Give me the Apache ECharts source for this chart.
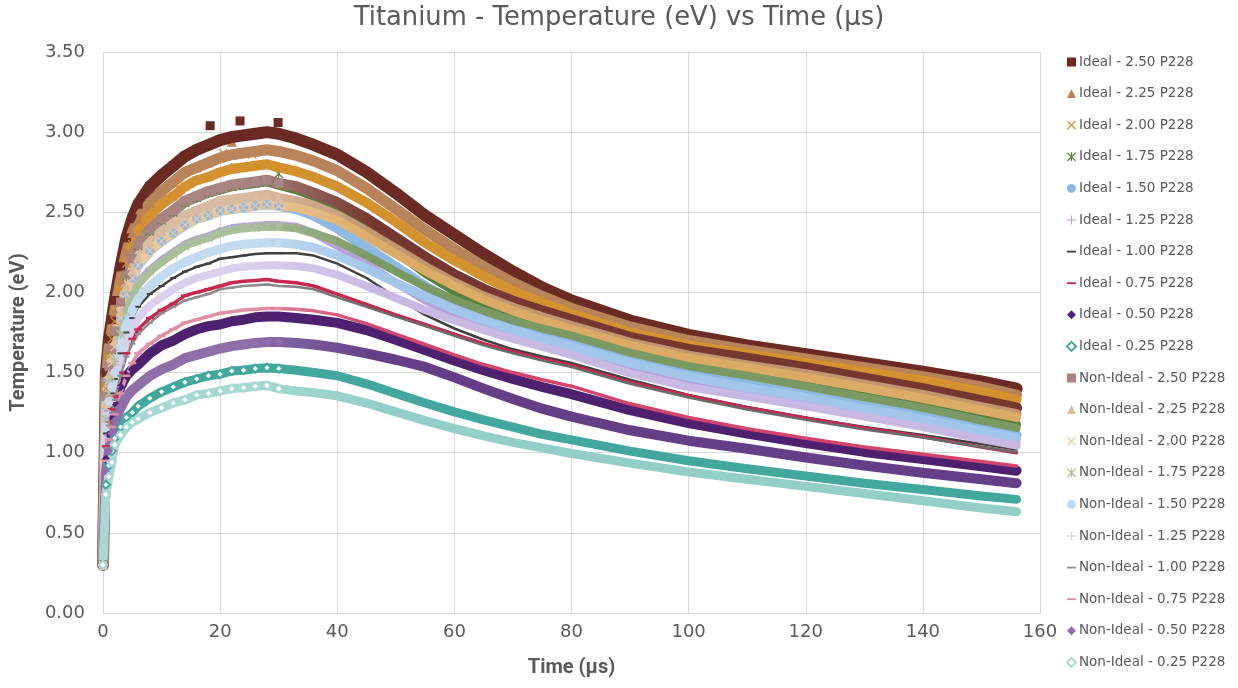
<!DOCTYPE html>
<html><head><meta charset="utf-8">
<script src="https://cdn.jsdelivr.net/npm/echarts@6/dist/echarts.min.js"></script>
<style>html,body{margin:0;padding:0;background:#fff}#c{width:1238px;height:688px}</style>
</head><body><div id="c"></div>
<script>
// ---- data ----
const TIME = [0,0.5,1,1.5,2,3,4,5,6,8,10,12,14,16,18,20,22,24,26,28,30,33,36,40,45,50,55,60,65,70,75,80,90,100,110,120,130,140,150,156];
const I250 = [0.30,1.50,1.71,1.83,1.95,2.16,2.34,2.46,2.55,2.66,2.73,2.79,2.85,2.89,2.92,2.95,2.97,2.98,2.99,3.00,2.99,2.96,2.92,2.86,2.75,2.62,2.48,2.36,2.24,2.13,2.03,1.95,1.825,1.735,1.67,1.615,1.56,1.505,1.445,1.40];
const I225 = [0.30,1.45,1.65,1.76,1.88,2.08,2.25,2.37,2.46,2.56,2.63,2.69,2.75,2.78,2.81,2.84,2.86,2.87,2.88,2.89,2.88,2.855,2.82,2.76,2.65,2.52,2.39,2.27,2.16,2.06,1.975,1.90,1.785,1.70,1.64,1.585,1.53,1.475,1.41,1.36];
const I200 = [0.30,1.40,1.60,1.71,1.82,2.02,2.18,2.30,2.38,2.48,2.55,2.60,2.66,2.70,2.72,2.75,2.77,2.78,2.79,2.80,2.78,2.755,2.72,2.66,2.56,2.44,2.31,2.20,2.10,2.01,1.935,1.865,1.75,1.67,1.615,1.56,1.505,1.45,1.38,1.33];
const I175 = [0.30,1.35,1.53,1.64,1.75,1.94,2.10,2.21,2.29,2.38,2.45,2.50,2.56,2.59,2.62,2.64,2.66,2.67,2.68,2.69,2.67,2.64,2.60,2.52,2.40,2.26,2.12,2.01,1.925,1.855,1.80,1.75,1.645,1.56,1.495,1.435,1.365,1.30,1.22,1.175];
const I150 = [0.30,1.28,1.45,1.56,1.66,1.84,1.99,2.09,2.17,2.26,2.32,2.37,2.42,2.46,2.48,2.51,2.52,2.53,2.54,2.55,2.54,2.52,2.48,2.40,2.28,2.16,2.04,1.94,1.86,1.79,1.735,1.685,1.585,1.495,1.425,1.36,1.29,1.23,1.155,1.11];
const I125 = [0.30,1.21,1.38,1.48,1.57,1.74,1.89,1.98,2.06,2.14,2.20,2.25,2.30,2.33,2.35,2.38,2.40,2.41,2.415,2.42,2.42,2.41,2.37,2.29,2.18,2.06,1.95,1.86,1.785,1.725,1.675,1.63,1.515,1.43,1.37,1.31,1.245,1.18,1.10,1.06];
const I100 = [0.30,1.12,1.28,1.37,1.46,1.62,1.75,1.84,1.91,1.99,2.04,2.09,2.13,2.16,2.18,2.21,2.22,2.23,2.24,2.245,2.245,2.245,2.23,2.18,2.09,1.97,1.86,1.775,1.705,1.645,1.60,1.56,1.455,1.36,1.285,1.22,1.16,1.11,1.055,1.02];
const I075 = [0.30,1.04,1.19,1.27,1.35,1.50,1.62,1.71,1.77,1.84,1.89,1.93,1.98,2.00,2.02,2.04,2.06,2.07,2.075,2.08,2.07,2.06,2.04,1.99,1.925,1.86,1.80,1.74,1.68,1.63,1.585,1.545,1.44,1.355,1.28,1.215,1.155,1.10,1.035,1.00];
const I050 = [0.30,0.96,1.11,1.22,1.31,1.41,1.48,1.52,1.55,1.62,1.67,1.70,1.74,1.77,1.79,1.80,1.82,1.83,1.845,1.85,1.85,1.84,1.83,1.81,1.765,1.705,1.64,1.575,1.515,1.46,1.41,1.365,1.265,1.185,1.12,1.06,1.005,0.96,0.915,0.888];
const I025 = [0.30,0.80,0.92,1.01,1.09,1.16,1.22,1.25,1.29,1.34,1.38,1.41,1.44,1.46,1.48,1.49,1.51,1.515,1.525,1.53,1.525,1.515,1.50,1.48,1.43,1.37,1.31,1.255,1.205,1.16,1.115,1.08,1.01,0.95,0.90,0.855,0.81,0.77,0.73,0.709];
const N250 = [0.30,1.35,1.54,1.65,1.76,1.94,2.11,2.21,2.30,2.39,2.46,2.51,2.57,2.60,2.63,2.65,2.67,2.68,2.69,2.70,2.68,2.66,2.62,2.56,2.46,2.34,2.22,2.11,2.02,1.945,1.885,1.83,1.72,1.645,1.59,1.53,1.465,1.40,1.325,1.28];
const N225 = [0.30,1.31,1.49,1.59,1.70,1.88,2.04,2.14,2.22,2.31,2.38,2.43,2.48,2.51,2.54,2.57,2.58,2.59,2.60,2.61,2.59,2.57,2.54,2.48,2.38,2.27,2.16,2.06,1.975,1.905,1.845,1.79,1.685,1.605,1.545,1.49,1.425,1.36,1.285,1.24];
const N200 = [0.30,1.28,1.45,1.56,1.66,1.84,1.99,2.09,2.17,2.26,2.32,2.37,2.42,2.46,2.48,2.51,2.52,2.53,2.54,2.55,2.54,2.53,2.50,2.45,2.35,2.24,2.135,2.04,1.955,1.885,1.825,1.77,1.67,1.59,1.53,1.47,1.405,1.34,1.265,1.22];
const N175 = [0.30,1.21,1.37,1.47,1.57,1.74,1.88,1.98,2.05,2.13,2.19,2.24,2.29,2.32,2.34,2.37,2.39,2.40,2.405,2.41,2.41,2.40,2.37,2.32,2.23,2.13,2.035,1.955,1.885,1.825,1.775,1.73,1.625,1.54,1.48,1.415,1.345,1.28,1.20,1.155];
const N150 = [0.30,1.16,1.32,1.41,1.50,1.66,1.80,1.89,1.96,2.04,2.10,2.15,2.19,2.22,2.25,2.27,2.29,2.30,2.305,2.31,2.31,2.30,2.28,2.23,2.15,2.06,1.975,1.895,1.825,1.765,1.71,1.66,1.56,1.475,1.405,1.345,1.275,1.21,1.135,1.09];
const N125 = [0.30,1.09,1.24,1.32,1.41,1.56,1.69,1.78,1.84,1.92,1.97,2.02,2.06,2.09,2.11,2.13,2.15,2.16,2.165,2.17,2.17,2.165,2.15,2.11,2.04,1.965,1.89,1.825,1.765,1.71,1.66,1.61,1.495,1.41,1.35,1.29,1.225,1.16,1.085,1.045];
const N100 = [0.30,1.03,1.17,1.25,1.33,1.48,1.60,1.68,1.74,1.81,1.87,1.91,1.95,1.97,1.99,2.02,2.03,2.04,2.045,2.05,2.04,2.035,2.02,1.97,1.91,1.85,1.79,1.73,1.67,1.62,1.575,1.535,1.43,1.345,1.27,1.205,1.145,1.095,1.035,1.005];
const N075 = [0.30,0.95,1.08,1.16,1.24,1.37,1.48,1.56,1.62,1.68,1.73,1.77,1.81,1.83,1.85,1.87,1.88,1.89,1.895,1.90,1.90,1.895,1.885,1.86,1.805,1.74,1.675,1.61,1.55,1.50,1.455,1.415,1.305,1.22,1.15,1.09,1.035,0.99,0.945,0.917];
const N050 = [0.30,0.88,1.01,1.12,1.20,1.28,1.35,1.39,1.42,1.48,1.52,1.55,1.59,1.61,1.63,1.65,1.665,1.675,1.685,1.69,1.69,1.685,1.675,1.655,1.62,1.58,1.535,1.47,1.40,1.335,1.275,1.225,1.14,1.075,1.025,0.97,0.92,0.875,0.835,0.81];
const N025 = [0.30,0.74,0.85,0.94,1.05,1.11,1.16,1.19,1.21,1.25,1.28,1.31,1.33,1.36,1.37,1.385,1.40,1.405,1.415,1.42,1.40,1.385,1.375,1.355,1.31,1.255,1.20,1.15,1.105,1.065,1.03,0.995,0.935,0.88,0.835,0.79,0.745,0.70,0.655,0.632];
// scattered points lying off the Ideal curves near their peaks
const I250_OFF = [[18.3,3.04],[23.4,3.07],[29.9,3.06]];
const I225_OFF = [[19.4,2.95],[22.0,2.94]];
const I200_OFF = [[20.5,2.87],[25.5,2.86]];
const I175_OFF = [[22.5,2.78],[30.0,2.74]];
const X_TICKS = {min:0, max:160, step:20};
const Y_TICKS = {min:0, max:3.5, step:0.5};

// ---- symbols & styles ----
const SYM_X = 'path://M0,1L1,0L5,4L9,0L10,1L6,5L10,9L9,10L5,6L1,10L0,9L4,5Z';
const SYM_AST = 'path://M0,1L1,0L5,4L9,0L10,1L6,5L10,9L9,10L5,6L1,10L0,9L4,5Z M4.4,0H5.6V10H4.4Z';
const SYM_PLUS = 'path://M4.4,0H5.6V4.4H10V5.6H5.6V10H4.4V5.6H0V4.4H4.4Z';
const SYM_DASH = 'path://M0,4H10V6H0Z';
// name, values, symbol, symbolSize, marker colour, band colour, band width, off-curve points
const SPEC = [
  ['Ideal - 2.50 P228', I250, 'rect', 9, '#6B2B24', '#6B2B24', 12, I250_OFF],
  ['Ideal - 2.25 P228', I225, 'triangle', 10, '#B98459', '#B98459', 11, I225_OFF],
  ['Ideal - 2.00 P228', I200, SYM_X, 9, '#D4922F', '#D4922F', 10, I200_OFF],
  ['Ideal - 1.75 P228', I175, SYM_AST, 9, '#55813A', '#55813A', 9, I175_OFF],
  ['Ideal - 1.50 P228', I150, 'circle', 9, '#8DB9E4', '#8DB9E4', 10, null],
  ['Ideal - 1.25 P228', I125, SYM_PLUS, 9, '#B7A2DA', '#B7A2DA', 8, null],
  ['Ideal - 1.00 P228', I100, 'rect', [6,2], '#404040', '#404040', 2.5, null],
  ['Ideal - 0.75 P228', I075, 'rect', [8,2.5], '#C8284F', '#C8284F', 3.5, null],
  ['Ideal - 0.50 P228', I050, 'diamond', 9, '#4E2170', '#4E2170', 10, null],
  ['Ideal - 0.25 P228', I025, 'emptyDiamond', 8, '#42A89E', '#42A89E', 9, null],
  ['Non-Ideal - 2.50 P228', N250, 'rect', 9, '#A88581', '#75372F', 11, null],
  ['Non-Ideal - 2.25 P228', N225, 'triangle', 10, '#D9BBA2', '#C39570', 10, null],
  ['Non-Ideal - 2.00 P228', N200, SYM_X, 9, '#EBC9A0', '#DCAB66', 9, null],
  ['Non-Ideal - 1.75 P228', N175, SYM_AST, 9, '#A9C199', '#7A9963', 8, null],
  ['Non-Ideal - 1.50 P228', N150, 'circle', 9, '#C3DBF1', '#A2C6EA', 9, null],
  ['Non-Ideal - 1.25 P228', N125, SYM_PLUS, 9, '#DAD0EC', '#C8B9E3', 8, null],
  ['Non-Ideal - 1.00 P228', N100, 'rect', [6,2], '#8C8C8C', '#6A6A6A', 2.5, null],
  ['Non-Ideal - 0.75 P228', N075, 'rect', [8,2.5], '#E08FA5', '#D3456C', 3.5, null],
  ['Non-Ideal - 0.50 P228', N050, 'diamond', 9, '#8E6FA9', '#643F88', 10, null],
  ['Non-Ideal - 0.25 P228', N025, 'emptyDiamond', 8, '#A7D8D3', '#93CFC8', 9, null]
];
const FONT = '"DejaVu Sans", Roboto, sans-serif';
const FONT_B = 'Roboto, "DejaVu Sans", sans-serif';
const TXT = '#595959';
const SYMBOL_UNTIL = 30; // markers drawn individually in the rising part only

const series = [];
SPEC.forEach(([name, vals, sym, size, mark, band, w, off]) => {
  const hollow = sym === 'emptyDiamond';
  series.push({
    name, type: 'line',
    data: TIME.map((t, i) => ({ value: [t, vals[i]], symbol: t <= SYMBOL_UNTIL ? sym : 'none' })),
    symbol: sym, symbolSize: size, showSymbol: true, showAllSymbol: true,
    smooth: false,
    itemStyle: { color: mark, borderColor: mark, borderWidth: hollow ? 1.5 : 0, opacity: 1 },
    lineStyle: {
      width: w, join: 'round', cap: 'round',
      color: new echarts.graphic.LinearGradient(0, 0, 1, 0, [
        { offset: 0, color: mark }, { offset: 0.16, color: mark },
        { offset: 0.3, color: band }, { offset: 1, color: band }
      ])
    },
    emphasis: { disabled: true }, animation: false, clip: true
  });
  if (off) {
    series.push({
      name, type: 'scatter', data: off, symbol: sym, symbolSize: size,
      itemStyle: { color: mark, opacity: 1 }, emphasis: { disabled: true }, animation: false
    });
  }
});

const legendIcon = s => (Array.isArray(s[3]) ? SYM_DASH : s[2]);

const chart = echarts.init(document.getElementById('c'), null, { renderer: 'canvas' });
chart.setOption({
  backgroundColor: '#ffffff',
  animation: false,
  title: {
    text: 'Titanium - Temperature (eV) vs Time (µs)', left: 'center', top: 0,
    textStyle: { color: TXT, fontSize: 25.8, fontWeight: 'normal', fontFamily: FONT }
  },
  legend: {
    orient: 'vertical', left: 1061, top: 50, itemWidth: 9, itemHeight: 9, itemGap: 17.6,
    textStyle: { color: TXT, fontSize: 13.5, fontFamily: FONT, padding: [0, 0, 0, -2] },
    data: SPEC.map(s => ({ name: s[0], icon: legendIcon(s), itemStyle: { color: s[4], borderColor: s[4] } })),
    selectedMode: false
  },
  grid: { left: 103, right: 198, top: 52, bottom: 75, containLabel: false },
  xAxis: {
    type: 'value', min: X_TICKS.min, max: X_TICKS.max, interval: X_TICKS.step,
    name: 'Time (µs)', nameLocation: 'middle', nameGap: 45,
    nameTextStyle: { color: TXT, fontSize: 20, fontFamily: FONT_B, fontWeight: 'bold' },
    axisLine: { show: true, lineStyle: { color: '#D9D9D9', width: 1 } },
    axisTick: { show: false },
    axisLabel: { color: TXT, fontSize: 18, fontFamily: FONT, margin: 10 },
    splitLine: { show: true, lineStyle: { color: '#D9D9D9', width: 1 } }
  },
  yAxis: {
    type: 'value', min: Y_TICKS.min, max: Y_TICKS.max, interval: Y_TICKS.step,
    name: 'Temperature (eV)', nameLocation: 'middle', nameGap: 74,
    nameTextStyle: { color: TXT, fontSize: 20, fontFamily: FONT_B, fontWeight: 'bold' },
    axisLine: { show: false }, axisTick: { show: false },
    axisLabel: { color: TXT, fontSize: 18, fontFamily: FONT, margin: 18, formatter: v => v.toFixed(2) },
    splitLine: { show: true, lineStyle: { color: '#D9D9D9', width: 1 } }
  },
  series
});
</script>
</body></html>
